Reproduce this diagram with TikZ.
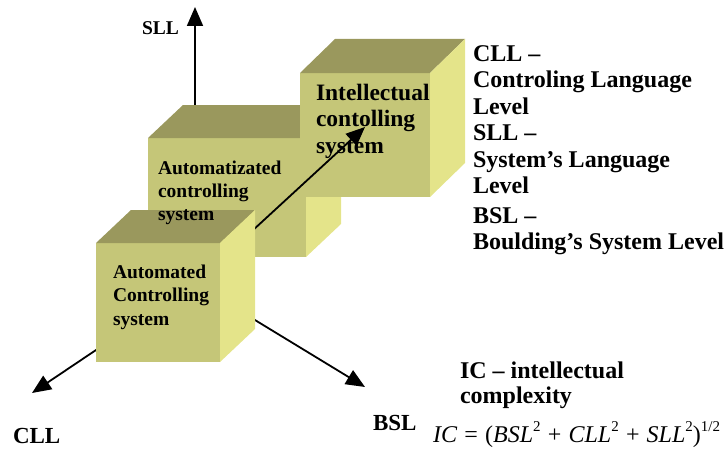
\documentclass[tikz,border=0pt]{standalone}
\usepackage{fontspec}
\setmainfont{Liberation Serif}
\usetikzlibrary{arrows.meta,calc}
\definecolor{cfront}{RGB}{197,198,120}
\definecolor{ctop}{RGB}{154,152,93}
\definecolor{cside}{RGB}{228,228,138}
\tikzset{
  face/.style={draw=none, fill=cfront, inner sep=0pt, outer sep=0pt, anchor=north west},
  axis/.style={line width=1.8pt, -{Triangle[length=19pt,width=16pt]}},
  boxtext/.style={inner sep=0pt, outer sep=0pt, anchor=north west, align=left},
  lbl/.style={inner sep=0pt, outer sep=0pt, anchor=base west},
}
\newcommand{\mycube}[7]{%
  \node[face, minimum width=#4pt, minimum height=#5pt] (#1) at (#2,#3) {};
  \fill[ctop] (#1.north west) -- ++(#6,-#7) -- ++(#4,0) -- (#1.north east) -- cycle;
  \fill[cside] (#1.north east) -- ++(#6,-#7) -- ++(0,#5) -- (#1.south east) -- cycle;
}
\newcommand{\sq}[1]{\raisebox{0.42em}{\fontsize{15}{15}\selectfont #1}}
\newcommand{\gp}{\hspace{0.3em}}
\begin{document}
\begin{tikzpicture}[x=1pt,y=-1pt]
\useasboundingbox (0,0) rectangle (727,452);
\coordinate (O) at (195,283.5);
\coordinate (sllend) at (195,7);
\coordinate (cllend) at (32,393);
\coordinate (bslend) at (365,387);
\coordinate (icend) at (365,127);
% axes
\draw[axis] (O) -- (sllend);
\draw[axis] (O) -- (cllend);
\draw[axis] (O) -- (bslend);
% cube 2 and 3
\mycube{cubeb}{148}{138}{158}{119}{35}{33}
\mycube{cubec}{300}{73}{130}{124}{35}{34}
\node[boxtext, font=\fontsize{23.5}{26.5}\selectfont\bfseries] (tc) at (316,84)
  {Intellectual\\contolling\\system};
\draw[axis] (O) -- (icend);
% cube 1
\mycube{cubea}{96}{243}{124}{119}{35}{33}
\node[boxtext, font=\fontsize{19.5}{23.5}\selectfont\bfseries] (ta) at (113,264.7)
  {Automated\\Controlling\\system};
\node[boxtext, font=\fontsize{19.5}{23.3}\selectfont\bfseries] (tb) at (158,160.7)
  {Automatizated\\controlling\\system};
% axis labels
\node[lbl, font=\fontsize{19.5}{22}\selectfont\bfseries] (lsll) at (142,35) {SLL};
\node[lbl, font=\fontsize{23}{26}\selectfont\bfseries] (lcll) at (13,443) {CLL};
\node[lbl, font=\fontsize{23}{26}\selectfont\bfseries] (lbsl) at (373,430) {BSL};
% legend
\node[boxtext, font=\fontsize{24}{26.4}\selectfont\bfseries] (legend) at (473,45.7)
  {CLL --\\Controling Language\\Level\\SLL --\\System’s Language\\Level\\[3.5pt]BSL --\\Boulding’s System Level};
\node[boxtext, font=\fontsize{24}{25}\selectfont\bfseries] (ic) at (460,361.7)
  {IC -- intellectual\\complexity};
\node[lbl, font=\fontsize{24}{26}\selectfont] (formula) at (433,442)
  {\textit{IC}\gp=\gp(\textit{BSL}\sq{2}\gp+\gp\textit{CLL}\sq{2}\gp+\gp\textit{SLL}\sq{2})\sq{1/2}};
\end{tikzpicture}
\end{document}
